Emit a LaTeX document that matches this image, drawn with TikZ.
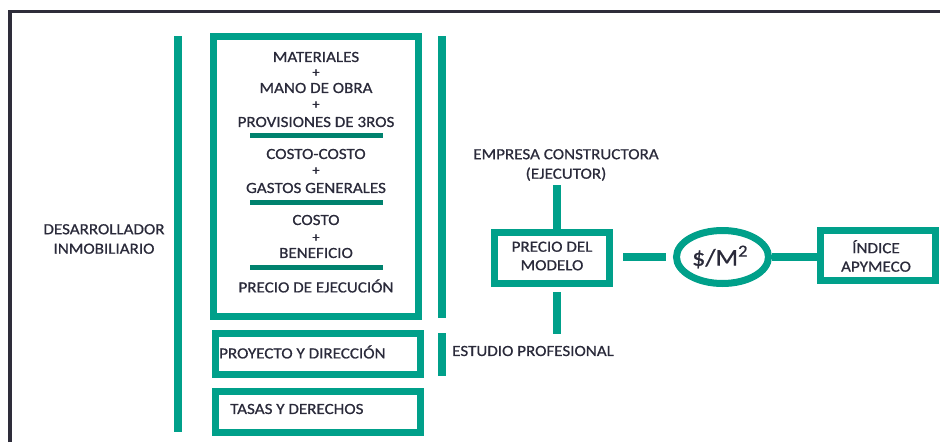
\documentclass[tikz,border=0pt]{standalone}
\usepackage{fontspec}
\setmainfont{Carlito}[FakeStretch=1.1, FakeBold=0.7]
\usetikzlibrary{shapes.geometric}
\definecolor{teal1}{HTML}{00A08A}
\definecolor{teal2}{HTML}{00826E}
\definecolor{ink}{HTML}{2A2A3A}
\definecolor{frame}{HTML}{2E2D3A}
\tikzset{
  boxed/.style={draw=teal1, line width=7pt, outer sep=3.5pt, inner sep=0pt, fill=white},
  lbl/.style={text=ink, font=\fontsize{15.5}{19.5}\selectfont, inner sep=0pt, align=center},
  plus/.style={text=ink, font=\fontsize{13}{15}\selectfont, inner sep=0pt},
  bar/.style={teal1, line width=8.5pt, line cap=butt},
  uline/.style={teal2, line width=5pt},
  conn/.style={teal1, line width=8pt, line cap=butt},
}
\begin{document}
\begin{tikzpicture}[x=1pt, y=-1pt]
\useasboundingbox (0,0) rectangle (940,442);
% frame
\draw[frame, line width=3.5pt] (10,442) -- (10,11.5) -- (940,11.5);
% brackets
\draw[bar] (178,36) -- (178,432);
\draw[bar] (442,36) -- (442,318);
\draw[bar] (442,333) -- (442,376);
% main box
\node[boxed, minimum width=205pt, minimum height=280pt] (main) at (316,176.5) {};
\node[lbl] (t1) at (316,57) {MATERIALES};
\node[plus] (p1) at (316,73) {+};
\node[lbl] (t2) at (316,88) {MANO DE OBRA};
\node[plus] (p2) at (316,105) {+};
\node[lbl] (t3) at (316,122) {PROVISIONES DE 3ROS};
\draw[uline] (250,135) -- (383,135);
\node[lbl] (t4) at (316,154) {COSTO-COSTO};
\node[plus] (p3) at (316,171) {+};
\node[lbl] (t5) at (316,188) {GASTOS GENERALES};
\draw[uline] (250,202) -- (383,202);
\node[lbl] (t6) at (316,220) {COSTO};
\node[plus] (p4) at (316,238) {+};
\node[lbl] (t7) at (316,253) {BENEFICIO};
\draw[uline] (250,267) -- (383,267);
\node[lbl] (t8) at (316,286) {PRECIO DE EJECUCIÓN};
% lower boxes
\node[boxed, minimum width=205pt, minimum height=41pt] (proy) at (318,354) {};
\node[lbl, anchor=west] (proyt) at (219,352) {PROYECTO Y DIRECCIÓN};
\node[boxed, minimum width=205pt, minimum height=41pt] (tasas) at (318,412) {};
\node[lbl, anchor=west] (tasast) at (230,409) {TASAS Y DERECHOS};
% left label
\node[lbl] (des) at (104,239) {DESARROLLADOR\\INMOBILIARIO};
% right part
\node[lbl] (emp) at (566,165) {EMPRESA CONSTRUCTORA\\(EJECUTOR)};
\node[lbl, anchor=west] (est) at (452,351) {ESTUDIO PROFESIONAL};
\node[boxed, minimum width=115pt, minimum height=51pt] (precio) at (552,258) {};
\node[lbl, font=\fontsize{15.5}{18.5}\selectfont] (preciot) at (552,256) {PRECIO DEL\\MODELO};
\node[boxed, ellipse, minimum width=92pt, minimum height=53pt] (ell) at (722.5,257) {};
\node[text=ink, font=\fontsize{24}{27}\selectfont, inner sep=0pt] (ellt) at (720,257) {\$/M\textsuperscript{2}};
\node[boxed, minimum width=115pt, minimum height=50pt] (ind) at (878,255.5) {};
\node[lbl, font=\fontsize{15.5}{18.5}\selectfont] (indt) at (876,256) {ÍNDICE\\APYMECO};
\coordinate (ctop) at (557,185);
\coordinate (cbot) at (557,334);
\draw[conn] (ctop) -- (ctop |- precio.north);
\draw[conn, shorten <=5pt] (cbot |- precio.south) -- (cbot);
\draw[conn, shorten <=10pt, shorten >=7pt] (ell.west -| precio.east) -- (ell.west);
\draw[conn] (ell.east) -- (ell.east -| ind.west);
\end{tikzpicture}
\end{document}
